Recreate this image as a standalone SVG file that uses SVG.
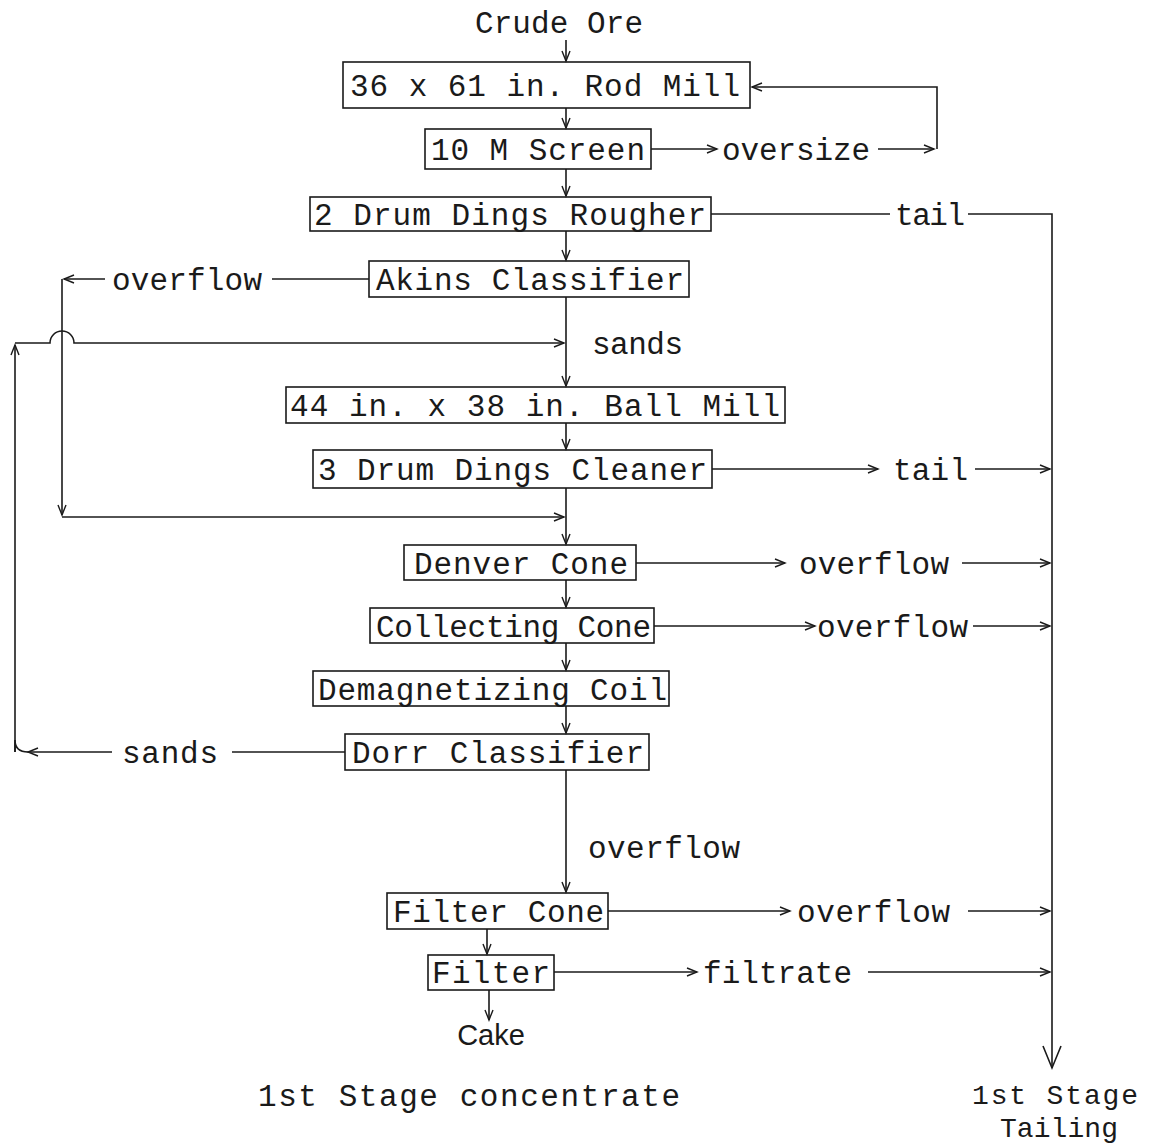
<svg xmlns="http://www.w3.org/2000/svg" width="1151" height="1146" viewBox="0 0 1151 1146">
<style>
.bg{fill:#ffffff}
.box{fill:none;stroke:#1a1a1a;stroke-width:1.6}
.t{font-family:"Liberation Mono","DejaVu Sans Mono",monospace;font-size:31px;fill:#1a1a1a}
.sm{font-size:28px}
.s{font-family:"Liberation Sans","DejaVu Sans",sans-serif;font-size:29px;fill:#1a1a1a;text-anchor:middle}
.c{fill:none;stroke:#1a1a1a;stroke-width:1.6}
.a{marker-end:url(#arr)}
</style>
<defs>
<marker id="arr" markerUnits="userSpaceOnUse" markerWidth="12" markerHeight="10" refX="11" refY="5" orient="auto" overflow="visible">
<path d="M1,1 L11,5 L1,9" fill="none" stroke="#1a1a1a" stroke-width="1.4"/>
</marker>
<marker id="big" markerUnits="userSpaceOnUse" markerWidth="24" markerHeight="18" refX="22" refY="9" orient="auto" overflow="visible">
<path d="M0,0 L22,9 L0,18" fill="none" stroke="#1a1a1a" stroke-width="1.6"/>
</marker>
</defs>
<rect class="bg" x="0" y="0" width="1151" height="1146"/>

<g id="connectors">
<line class="c a" x1="566" y1="40" x2="566" y2="61"/>
<line class="c a" x1="566" y1="108" x2="566" y2="128"/>
<line class="c a" x1="651" y1="149" x2="717" y2="149"/>
<line class="c a" x1="878" y1="149" x2="934" y2="149"/>
<path class="c a" d="M937,149 V87 H752"/>
<line class="c a" x1="566" y1="169" x2="566" y2="196"/>
<line class="c" x1="711" y1="214" x2="890" y2="214"/>
<path class="c" d="M968,214 H1052 V1068" marker-end="url(#big)"/>
<line class="c a" x1="566" y1="231" x2="566" y2="260"/>
<line class="c" x1="369" y1="279" x2="272" y2="279"/>
<line class="c a" x1="105" y1="279" x2="64" y2="279"/>
<path class="c a" d="M62,279 V515"/>
<line class="c a" x1="62" y1="517" x2="564" y2="517"/>
<path class="c a" d="M15,752 V345"/>
<path class="c a" d="M15,343 H50 A12,12 0 0 1 74,343 H564"/>
<line class="c a" x1="566" y1="297" x2="566" y2="386"/>
<line class="c a" x1="566" y1="423" x2="566" y2="449"/>
<line class="c a" x1="712" y1="469" x2="878" y2="469"/>
<line class="c a" x1="975" y1="469" x2="1050" y2="469"/>
<line class="c a" x1="566" y1="488" x2="566" y2="544"/>
<line class="c a" x1="636" y1="563" x2="785" y2="563"/>
<line class="c a" x1="962" y1="563" x2="1050" y2="563"/>
<line class="c a" x1="566" y1="580" x2="566" y2="607"/>
<line class="c a" x1="654" y1="626" x2="815" y2="626"/>
<line class="c a" x1="973" y1="626" x2="1050" y2="626"/>
<line class="c a" x1="566" y1="643" x2="566" y2="670"/>
<line class="c a" x1="566" y1="706" x2="566" y2="733"/>
<line class="c" x1="345" y1="752" x2="232" y2="752"/>
<path class="c a" d="M112,752 H28"/>
<path class="c" d="M28,752 Q15,752 15,740 V752"/>
<line class="c a" x1="566" y1="770" x2="566" y2="892"/>
<line class="c a" x1="608" y1="911" x2="790" y2="911"/>
<line class="c a" x1="968" y1="911" x2="1050" y2="911"/>
<line class="c a" x1="487" y1="929" x2="487" y2="954"/>
<line class="c a" x1="554" y1="972" x2="697" y2="972"/>
<line class="c a" x1="868" y1="972" x2="1050" y2="972"/>
<line class="c a" x1="489" y1="990" x2="489" y2="1020"/>
</g>

<g id="crude-ore"><text class="t" x="475" y="33" textLength="168" lengthAdjust="spacing">Crude Ore</text></g>
<g id="rod-mill"><rect class="box" x="343" y="62" width="407" height="46"/><text class="t" x="350" y="96" textLength="390" lengthAdjust="spacing">36 x 61 in. Rod Mill</text></g>
<g id="screen"><rect class="box" x="425" y="129" width="226" height="40"/><text class="t" x="431" y="160" textLength="214" lengthAdjust="spacing">10 M Screen</text></g>
<g id="rougher"><rect class="box" x="310" y="197" width="401" height="34"/><text class="t" x="314" y="225" textLength="392" lengthAdjust="spacing">2 Drum Dings Rougher</text></g>
<g id="akins"><rect class="box" x="369" y="261" width="320" height="36"/><text class="t" x="376" y="290" textLength="308" lengthAdjust="spacing">Akins Classifier</text></g>
<g id="ball-mill"><rect class="box" x="286" y="387" width="499" height="36"/><text class="t" x="290" y="416" textLength="490" lengthAdjust="spacing">44 in. x 38 in. Ball Mill</text></g>
<g id="cleaner"><rect class="box" x="313" y="450" width="399" height="38"/><text class="t" x="318" y="480" textLength="389" lengthAdjust="spacing">3 Drum Dings Cleaner</text></g>
<g id="denver"><rect class="box" x="404" y="545" width="232" height="35"/><text class="t" x="414" y="574" textLength="214" lengthAdjust="spacing">Denver Cone</text></g>
<g id="collecting"><rect class="box" x="370" y="608" width="284" height="35"/><text class="t" x="376" y="637" textLength="275" lengthAdjust="spacing">Collecting Cone</text></g>
<g id="demag"><rect class="box" x="313" y="671" width="356" height="35"/><text class="t" x="318" y="700" textLength="349" lengthAdjust="spacing">Demagnetizing Coil</text></g>
<g id="dorr"><rect class="box" x="345" y="734" width="304" height="36"/><text class="t" x="352" y="763" textLength="292" lengthAdjust="spacing">Dorr Classifier</text></g>
<g id="filter-cone"><rect class="box" x="387" y="893" width="221" height="36"/><text class="t" x="393" y="922" textLength="211" lengthAdjust="spacing">Filter Cone</text></g>
<g id="filter"><rect class="box" x="428" y="955" width="126" height="35"/><text class="t" x="432" y="983" textLength="118" lengthAdjust="spacing">Filter</text></g>

<g id="labels">
<text class="t" x="722" y="160" textLength="148" lengthAdjust="spacing">oversize</text>
<text class="t" x="895" y="225" textLength="70" lengthAdjust="spacing">tail</text>
<text class="t" x="112" y="290" textLength="150" lengthAdjust="spacing">overflow</text>
<text class="t" x="592" y="354" textLength="91" lengthAdjust="spacing">sands</text>
<text class="t" x="893" y="480" textLength="75" lengthAdjust="spacing">tail</text>
<text class="t" x="799" y="574" textLength="150" lengthAdjust="spacing">overflow</text>
<text class="t" x="817" y="637" textLength="151" lengthAdjust="spacing">overflow</text>
<text class="t" x="122" y="763" textLength="96" lengthAdjust="spacing">sands</text>
<text class="t" x="588" y="858" textLength="152" lengthAdjust="spacing">overflow</text>
<text class="t" x="797" y="922" textLength="153" lengthAdjust="spacing">overflow</text>
<text class="t" x="703" y="983" textLength="149" lengthAdjust="spacing">filtrate</text>
<text class="s" x="491" y="1045">Cake</text>
<text class="t" x="258" y="1106" textLength="422" lengthAdjust="spacing">1st Stage concentrate</text>
<text class="t sm" x="972" y="1104" textLength="166" lengthAdjust="spacing">1st Stage</text>
<text class="t sm" x="1000" y="1137" textLength="118" lengthAdjust="spacing">Tailing</text>
</g>
</svg>
